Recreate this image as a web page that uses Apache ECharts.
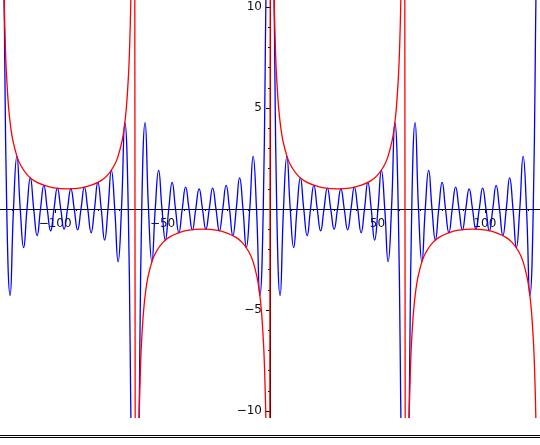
<!DOCTYPE html>
<html>
<head>
<meta charset="utf-8">
<script src="https://cdn.jsdelivr.net/npm/echarts@6/dist/echarts.min.js"></script>
<style>
  html, body { margin: 0; padding: 0; background: #fff; }
  #main { width: 540px; height: 445px; }
</style>
</head>
<body>
<div id="main"></div>
<script>
// blue curve: extrema and axis crossings, [x, y]
var blueLeft = [
  [-125.66, 20], [-124.09, 12.75], [-122.52, 0], [-120.95, -4.28], [-119.38, 0], [-117.81, 2.61],
  [-116.24, 0], [-114.67, -1.91], [-113.10, 0], [-111.53, 1.54], [-109.96, 0], [-108.38, -1.32],
  [-106.81, 0], [-105.24, 1.17], [-103.67, 0], [-102.10, -1.08], [-100.53, 0], [-98.96, 1.03],
  [-97.39, 0], [-95.82, -1.00], [-94.25, 0], [-92.68, 1.00], [-91.11, 0], [-89.54, -1.03],
  [-87.96, 0], [-86.39, 1.08], [-84.82, 0], [-83.25, -1.17], [-81.68, 0], [-80.11, 1.32],
  [-78.54, 0], [-76.97, -1.54], [-75.40, 0], [-73.83, 1.91], [-72.26, 0], [-70.69, -2.61],
  [-69.12, 0], [-67.54, 4.28], [-65.97, 0], [-64.40, -12.75], [-62.83, -20], [-61.26, -12.75],
  [-59.69, 0], [-58.12, 4.28], [-56.55, 0], [-54.98, -2.61], [-53.41, 0], [-51.84, 1.91],
  [-50.27, 0], [-48.69, -1.54], [-47.12, 0], [-45.55, 1.32], [-43.98, 0], [-42.41, -1.17],
  [-40.84, 0], [-39.27, 1.08], [-37.70, 0], [-36.13, -1.03], [-34.56, 0], [-32.99, 1.00],
  [-31.42, 0], [-29.85, -1.00], [-28.27, 0], [-26.70, 1.03], [-25.13, 0], [-23.56, -1.08],
  [-21.99, 0], [-20.42, 1.17], [-18.85, 0], [-17.28, -1.32], [-15.71, 0], [-14.14, 1.54],
  [-12.57, 0], [-11.00, -1.91], [-9.42, 0], [-7.85, 2.61], [-6.28, 0], [-4.71, -4.28],
  [-3.14, 0], [-1.57, 12.75]
];
var blueRight = [
  [0, 20], [1.57, 12.75], [3.14, 0], [4.71, -4.28], [6.28, 0], [7.85, 2.61],
  [9.42, 0], [11.00, -1.91], [12.57, 0], [14.14, 1.54], [15.71, 0], [17.28, -1.32],
  [18.85, 0], [20.42, 1.17], [21.99, 0], [23.56, -1.08], [25.13, 0], [26.70, 1.03],
  [28.27, 0], [29.85, -1.00], [31.42, 0], [32.99, 1.00], [34.56, 0], [36.13, -1.03],
  [37.70, 0], [39.27, 1.08], [40.84, 0], [42.41, -1.17], [43.98, 0], [45.55, 1.32],
  [47.12, 0], [48.69, -1.54], [50.27, 0], [51.84, 1.91], [53.41, 0], [54.98, -2.61],
  [56.55, 0], [58.12, 4.28], [59.69, 0], [61.26, -12.75], [62.83, -20], [64.40, -12.75],
  [65.97, 0], [67.54, 4.28], [69.12, 0], [70.69, -2.61], [72.26, 0], [73.83, 1.91],
  [75.40, 0], [76.97, -1.54], [78.54, 0], [80.11, 1.32], [81.68, 0], [83.25, -1.17],
  [84.82, 0], [86.39, 1.08], [87.96, 0], [89.54, -1.03], [91.11, 0], [92.68, 1.00],
  [94.25, 0], [95.82, -1.00], [97.39, 0], [98.96, 1.03], [100.53, 0], [102.10, -1.08],
  [103.67, 0], [105.24, 1.17], [106.81, 0], [108.38, -1.32], [109.96, 0], [111.53, 1.54],
  [113.10, 0], [114.67, -1.91], [116.24, 0], [117.81, 2.61], [119.38, 0], [120.95, -4.28],
  [122.52, 0], [124.09, 12.75], [125.66, 20]
];

// red envelope, one branch per interval between the asymptotes
var redA = [ // -125.66 .. -62.83
  [-125.16, 40], [-124.66, 20], [-124.16, 13.35], [-123.66, 10.02], [-123.16, 8.02], [-122.66, 6.69],
  [-121.66, 5.03], [-120.66, 4.04], [-119.66, 3.38], [-117.66, 2.57], [-115.66, 2.09], [-112.66, 1.65],
  [-109.66, 1.39], [-105.66, 1.19], [-100.66, 1.05], [-94.25, 1.00], [-87.83, 1.05], [-82.83, 1.19],
  [-78.83, 1.39], [-75.83, 1.65], [-72.83, 2.09], [-70.83, 2.57], [-68.83, 3.38], [-67.83, 4.04],
  [-66.83, 5.03], [-65.83, 6.69], [-65.33, 8.02], [-64.83, 10.02], [-64.33, 13.35], [-63.83, 20],
  [-63.33, 40]
];
var redB = [ // -62.83 .. 0
  [-62.33, -40], [-61.83, -20], [-61.33, -13.35], [-60.83, -10.02], [-60.33, -8.02], [-59.83, -6.69],
  [-58.83, -5.03], [-57.83, -4.04], [-56.83, -3.38], [-54.83, -2.57], [-52.83, -2.09], [-49.83, -1.65],
  [-46.83, -1.39], [-42.83, -1.19], [-37.83, -1.05], [-31.42, -1.00], [-25, -1.05], [-20, -1.19],
  [-16, -1.39], [-13, -1.65], [-10, -2.09], [-8, -2.57], [-6, -3.38], [-5, -4.04],
  [-4, -5.03], [-3, -6.69], [-2.5, -8.02], [-2, -10.02], [-1.5, -13.35], [-1, -20],
  [-0.5, -40]
];
var redC = [ // 0 .. 62.83
  [0.5, 40], [1, 20], [1.5, 13.35], [2, 10.02], [2.5, 8.02], [3, 6.69],
  [4, 5.03], [5, 4.04], [6, 3.38], [8, 2.57], [10, 2.09], [13, 1.65],
  [16, 1.39], [20, 1.19], [25, 1.05], [31.42, 1.00], [37.83, 1.05], [42.83, 1.19],
  [46.83, 1.39], [49.83, 1.65], [52.83, 2.09], [54.83, 2.57], [56.83, 3.38], [57.83, 4.04],
  [58.83, 5.03], [59.83, 6.69], [60.33, 8.02], [60.83, 10.02], [61.33, 13.35], [61.83, 20],
  [62.33, 40]
];
var redD = [ // 62.83 .. 125.66
  [63.33, -40], [63.83, -20], [64.33, -13.35], [64.83, -10.02], [65.33, -8.02], [65.83, -6.69],
  [66.83, -5.03], [67.83, -4.04], [68.83, -3.38], [70.83, -2.57], [72.83, -2.09], [75.83, -1.65],
  [78.83, -1.39], [82.83, -1.19], [87.83, -1.05], [94.25, -1.00], [100.66, -1.05], [105.66, -1.19],
  [109.66, -1.39], [112.66, -1.65], [115.66, -2.09], [117.66, -2.57], [119.66, -3.38], [120.66, -4.04],
  [121.66, -5.03], [122.66, -6.69], [123.16, -8.02], [123.66, -10.02], [124.16, -13.35], [124.66, -20],
  [125.16, -40]
];

var xTickStep = 50;
var yTickStep = 5;

function fmt(v) {
    if (v === 0) return '';
    return v < 0 ? '\u2212' + (-v) : String(v);
}

var myChart = echarts.init(document.getElementById('main'), null, { renderer: 'canvas' });
var option = {
    animation: false,
    backgroundColor: '#fff',
    // grid runs past the window so the ticks line up with round numbers
    grid: {
        left: -52.3,
        width: 644.6,
        top: -94,
        height: 606,
        containLabel: false,
        outerBoundsMode: 'none'
    },
    xAxis: {
        type: 'value',
        position: 'bottom',
        min: -150,
        max: 150,
        interval: xTickStep,
        offset: -303,  // lift the axis from the grid bottom to y = 0
        axisLine: { show: true, onZero: false, lineStyle: { color: '#000', width: 1 } },
        axisTick: { show: true, length: 4, lineStyle: { color: '#000' } },
        minorTick: { show: true, splitNumber: 5, length: 2, lineStyle: { color: '#000' } },
        splitLine: { show: false },
        minorSplitLine: { show: false },
        axisLabel: {
            show: true,
            margin: 9,
            color: '#111',
            fontFamily: 'DejaVu Sans',
            fontSize: 12,
            hideOverlap: false,
            formatter: fmt
        }
    },
    yAxis: {
        type: 'value',
        position: 'left',
        min: -15,
        max: 15,
        interval: yTickStep,
        offset: -322.3,  // move the axis from the grid left edge to x = 0
        axisLine: { show: true, onZero: false, lineStyle: { color: '#000', width: 1 } },
        axisTick: { show: true, length: 4, lineStyle: { color: '#000' } },
        minorTick: { show: true, splitNumber: 5, length: 2, lineStyle: { color: '#000' } },
        splitLine: { show: false },
        minorSplitLine: { show: false },
        axisLabel: {
            show: true,
            margin: 8,
            color: '#111',
            fontFamily: 'DejaVu Sans',
            fontSize: 12,
            hideOverlap: false,
            formatter: fmt
        }
    },
    series: [
        {
            type: 'line',
            data: blueLeft.concat(blueRight),
            showSymbol: false,
            smooth: 0.5,
            clip: true,
            lineStyle: { color: '#0000ff', width: 1.3 }
        },
        {
            type: 'line',
            data: redA.concat(redB, redC, redD),
            showSymbol: false,
            smooth: 0.3,
            clip: true,
            lineStyle: { color: '#ff0000', width: 1.3 }
        }
    ],
    graphic: [
        // blank strip under the plot area, then the frame line
        { type: 'rect', z: 100, shape: { x: 0, y: 418, width: 540, height: 27 }, style: { fill: '#fff' } },
        { type: 'line', z: 101, shape: { x1: 0, y1: 435.5, x2: 540, y2: 435.5 }, style: { stroke: '#000', lineWidth: 1 } },
        { type: 'line', z: 101, shape: { x1: 0, y1: 437.5, x2: 540, y2: 437.5 }, style: { stroke: '#000', lineWidth: 1 } }
    ]
};
myChart.setOption(option);
</script>
</body>
</html>
